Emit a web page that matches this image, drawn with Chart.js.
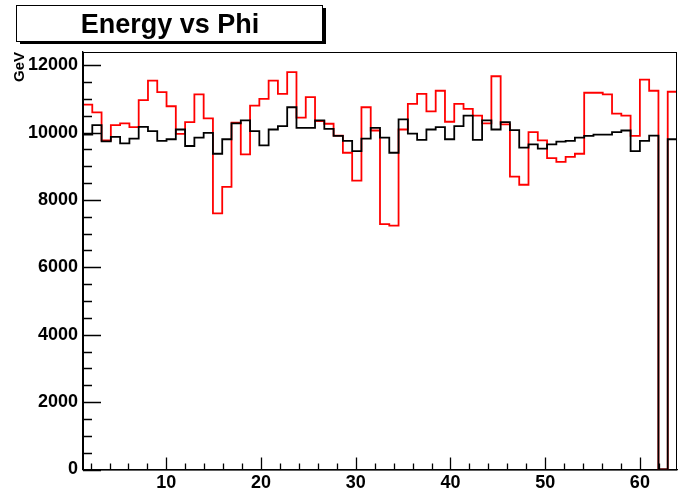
<!DOCTYPE html>
<html lang="en">
<head>
  <meta charset="UTF-8" />
  <title>Energy vs Phi</title>
  <script src="https://cdn.jsdelivr.net/npm/chart.js"></script>
  <style>
    body {
      margin: 0;
      background: #ffffff;
    }

    #wrap {
      width: 678px;
      height: 494px;
    }
  </style>
</head>
<body>
  <div id="wrap"><canvas id="hist" width="678" height="494"></canvas></div>

  <script>
    // binning of the phi histogram (64 bins, first one starts on the frame)
    const binLow = 1.2;
    const binWidth = 0.98;

    // red histogram, GeV per bin
    const redValues = [
      10830, 10600, 9770, 10220, 10270, 10160, 10960, 11540, 11200, 10780,
      9960, 10310, 11130, 10420, 7600, 8390, 10290, 9350, 10800, 11000,
      11540, 11150, 11790, 10440, 11050, 10340, 10260, 9910, 9400, 8570,
      10750, 10060, 7280, 7240, 10090, 10850, 11150, 10630, 11240, 10320,
      10850, 10700, 10500, 10270, 11670, 10240, 8690, 8450, 10010, 9770,
      9240, 9130, 9280, 9370, 11180, 11180, 11130, 10560, 10500, 9900,
      11570, 11240, 0, 11210
    ];

    // black histogram, GeV per bin
    const blackValues = [
      9940, 10220, 9740, 9870, 9680, 9820, 10170, 10040, 9750, 9800,
      10090, 9600, 9850, 9990, 9370, 9800, 10270, 10360, 10040, 9620,
      10090, 10190, 10750, 10140, 10140, 10360, 10110, 9900, 9750, 9450,
      9820, 10140, 9850, 9400, 10390, 9970, 9780, 10090, 10160, 9800,
      10190, 10500, 9780, 10360, 10090, 10310, 10070, 9550, 9650, 9520,
      9650, 9730, 9750, 9850, 9900, 9940, 9940, 10010, 10060, 9450,
      9750, 9910, 0, 9800
    ];

    const xTicks = [10, 20, 30, 40, 50, 60];
    const yTicks = [0, 2000, 4000, 6000, 8000, 10000, 12000];
    const xMinorStep = 2;
    const yMinorStep = 500;

    const xMax = binLow + redValues.length * binWidth;
    const yMax = 12390;

    function histPoints(vals) {
      const pts = vals.map((v, i) => ({ x: binLow + i * binWidth, y: v }));
      pts.push({ x: xMax, y: vals[vals.length - 1] });
      pts.push({ x: xMax, y: 0 });
      return pts;
    }

    // ROOT style decorations: frame, inner tick marks, title pave
    const rootFrame = {
      id: 'rootFrame',
      afterDraw(chart) {
        const ctx = chart.ctx;
        const a = chart.chartArea;
        const xs = chart.scales.x;
        const ys = chart.scales.y;
        ctx.save();
        ctx.strokeStyle = '#000';
        ctx.lineWidth = 1;
        ctx.strokeRect(a.left + 0.5, a.top + 0.5, a.right - a.left - 1, a.bottom - a.top);

        ctx.lineWidth = 1.3;
        ctx.beginPath();
        for (let v = 0; v <= yMax; v += yMinorStep) {
          const y = Math.round(ys.getPixelForValue(v)) + 0.5;
          const len = yTicks.includes(v) ? 18 : 9;
          ctx.moveTo(a.left, y);
          ctx.lineTo(a.left + len, y);
        }
        for (let v = xMinorStep; v <= xMax; v += xMinorStep) {
          const x = Math.round(xs.getPixelForValue(v)) + 0.5;
          const len = xTicks.includes(v) ? 12 : 6;
          ctx.moveTo(x, a.bottom);
          ctx.lineTo(x, a.bottom - len);
        }
        ctx.stroke();

        // title pave with shadow
        ctx.lineWidth = 1;
        ctx.fillStyle = '#fff';
        ctx.fillRect(17, 5, 306, 36);
        ctx.fillStyle = '#000';
        ctx.fillRect(323, 8, 3, 36);
        ctx.fillRect(20, 41, 306, 3);
        ctx.strokeRect(16.5, 5.5, 306, 36);
        ctx.font = 'bold 27px "Liberation Sans", Arial, sans-serif';
        ctx.textAlign = 'center';
        ctx.textBaseline = 'alphabetic';
        ctx.fillText('Energy vs Phi', 170, 33);
        ctx.restore();
      }
    };

    const tickFont = { family: '"Liberation Sans", Arial, sans-serif', size: 18, weight: 'bold' };
    const plain = v => String(v);

    new Chart(document.getElementById('hist'), {
      type: 'line',
      data: {
        datasets: [
          {
            label: 'black',
            data: histPoints(blackValues),
            borderColor: '#000000',
            borderWidth: 1.8,
            stepped: 'before',
            pointRadius: 0,
            fill: false,
            order: 0
          },
          {
            label: 'red',
            data: histPoints(redValues),
            borderColor: '#ff0000',
            borderWidth: 1.8,
            stepped: 'before',
            pointRadius: 0,
            fill: false,
            order: 1
          }
        ]
      },
      options: {
        responsive: false,
        animation: false,
        devicePixelRatio: 1,
        layout: { padding: { top: 52, right: 1, left: 0, bottom: 0 } },
        plugins: {
          legend: { display: false },
          tooltip: { enabled: false }
        },
        scales: {
          x: {
            type: 'linear',
            min: binLow,
            max: xMax,
            grid: { display: false, drawTicks: false },
            border: { display: true, color: '#000', width: 1.3 },
            ticks: {
              color: '#000',
              font: tickFont,
              padding: 3,
              maxRotation: 0,
              callback: plain
            },
            afterBuildTicks: s => { s.ticks = xTicks.map(v => ({ value: v })); },
            afterFit: s => { s.height = 24.5; }
          },
          y: {
            min: 0,
            max: yMax,
            grid: { display: false, drawTicks: false },
            border: { display: true, color: '#000', width: 1.3 },
            ticks: {
              color: '#000',
              font: tickFont,
              padding: 5,
              callback: plain
            },
            title: {
              display: true,
              text: 'GeV',
              align: 'end',
              color: '#000',
              font: { family: '"Liberation Sans", Arial, sans-serif', size: 15, weight: 'bold' },
              padding: { top: 11, bottom: 0 }
            },
            afterBuildTicks: s => { s.ticks = yTicks.map(v => ({ value: v })); },
            afterFit: s => { s.width = 83; }
          }
        }
      },
      plugins: [rootFrame]
    });
  </script>
</body>
</html>
